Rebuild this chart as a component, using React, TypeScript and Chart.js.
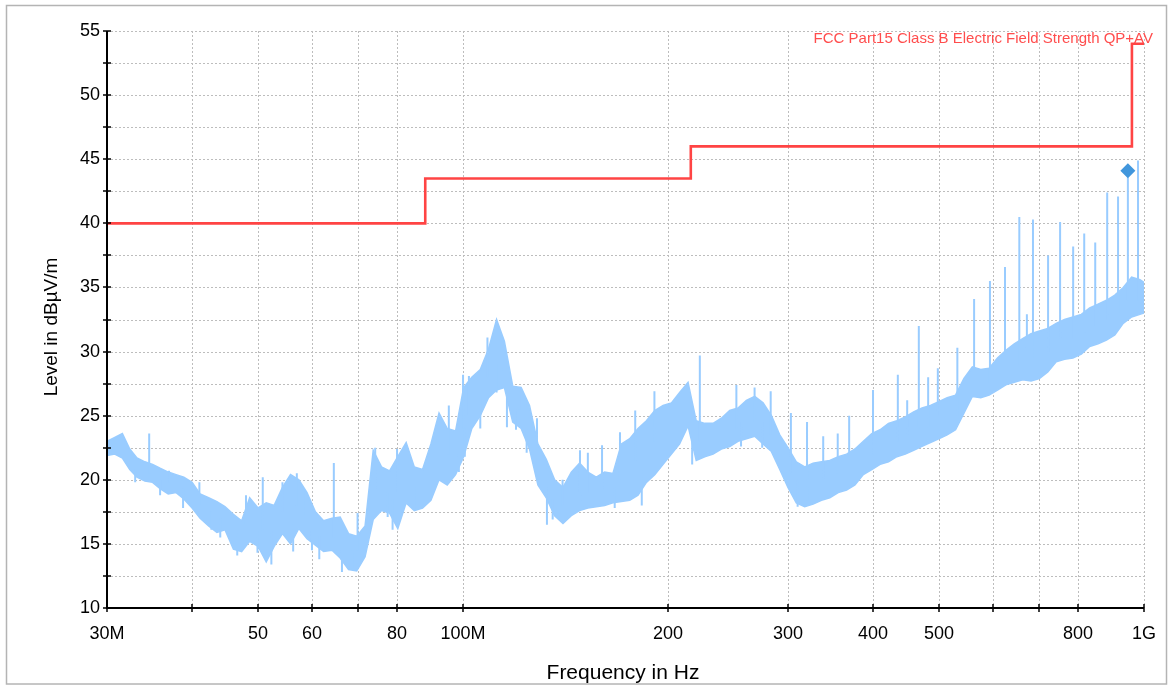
import React, { useEffect, useRef } from "react";
import { Chart, registerables } from "chart.js";

Chart.register(...registerables);

const FONT = '"Liberation Sans", Arial, Helvetica, sans-serif';

const xTickValues = [30, 40, 50, 60, 70, 80, 100, 200, 300, 400, 500, 600, 700, 800, 1000];
const xTickLabels = ["30M", "", "50", "60", "", "80", "100M", "200", "300", "400", "500", "", "", "800", "1G"];
const yTickValues = [10, 12.5, 15, 17.5, 20, 22.5, 25, 27.5, 30, 32.5, 35, 37.5, 40, 42.5, 45, 47.5, 50, 52.5, 55];
const yTickLabels = ["10", "", "15", "", "20", "", "25", "", "30", "", "35", "", "40", "", "45", "", "50", "", "55"];

const xTitle = "Frequency in Hz";
const yTitle = "Level in dBµV/m";

const limitName = "FCC Part15 Class B Electric Field Strength QP+AV";
const limitFreqs = [30, 88, 88, 216, 216, 960, 960, 1000];
const limitLevels = [40, 40, 43.5, 43.5, 46, 46, 54, 54];

// measured trace, envelope (low / high) per frequency in MHz
const traceFreqs = [
  30, 30.8, 31.6, 32.4, 33.2, 34.1, 35, 35.9, 36.9, 37.9, 38.9, 40, 41.1, 42.3, 43.5, 44.7, 46, 47.3, 48.6, 50,
  51.4, 52.8, 54.3, 55.8, 57.4, 59, 60.7, 62.4, 64.2, 66, 67.9, 69.8, 71.8, 73.8, 75.9, 78, 80.2, 82.5, 84.8, 87.2,
  89.7, 92.2, 94.8, 97.5, 100.2, 103, 106, 109, 112, 115, 118.3, 121.7, 125.2, 128.8, 132.5, 136.3, 140.2, 144.2, 148.3, 152.5,
  156.9, 161.4, 166, 170.8, 175.7, 180.7, 185.9, 191.2, 196.7, 202.3, 208, 214, 220, 226.4, 232.9, 239.5, 246.4, 253.4, 260.7, 268.1,
  275.8, 283.7, 291.8, 300, 308.6, 317.5, 326.6, 336, 345.6, 355.6, 365.8, 376.3, 387.1, 398.3, 409.7, 421.5, 433.6, 446.1, 458.9, 472.1,
  485.7, 499.6, 514, 528.8, 544, 559.7, 575.8, 592.3, 609.3, 626.9, 644.9, 663.4, 682.5, 702.1, 722.3, 743.1, 764.4, 786.4, 809, 832.3,
  856.2, 880.8, 906.1, 932.2, 959, 986.5, 1000,
];
const traceLows = [
  21.9, 22.0, 21.7, 20.8, 20.2, 19.9, 19.8, 19.3, 18.9, 19.0, 18.5, 17.8, 17.0, 16.4, 15.9, 16.1, 14.6, 14.4, 15.2, 14.8,
  13.6, 14.8, 15.8, 15.0, 16.2, 15.4, 14.9, 14.4, 14.5, 13.9, 13.0, 12.9, 14.0, 16.9, 17.6, 17.4, 16.2, 18.2, 17.6, 17.8,
  18.4, 20.0, 19.6, 20.4, 21.8, 24.0, 25.0, 26.4, 27.0, 27.2, 24.5, 24.0, 22.4, 19.6, 18.6, 17.2, 16.6, 17.2, 17.6, 17.8,
  17.9, 18.0, 18.2, 18.3, 18.4, 18.8, 19.8, 20.4, 21.2, 22.0, 22.8, 24.2, 21.5, 21.8, 22.0, 22.4, 22.6, 23.0, 23.2, 23.4,
  22.8, 22.2, 20.8, 19.4, 18.2, 17.9, 18.1, 18.4, 18.6, 19.0, 19.2, 19.6, 20.4, 20.8, 21.2, 21.4, 21.8, 22.0, 22.3, 22.6,
  22.9, 23.2, 23.5, 23.9, 25.2, 26.5, 26.4, 26.6, 27.0, 27.4, 27.6, 27.8, 27.7, 27.9, 28.4, 29.2, 29.4, 29.5, 29.8, 30.4,
  30.6, 30.9, 31.3, 32.2, 32.7, 32.9, 33.0,
];
const traceHighs = [
  23.0, 23.3, 23.6, 22.4, 21.7, 21.4, 21.2, 20.9, 20.6, 20.4, 20.2, 19.8, 18.9, 18.6, 18.3, 17.9, 17.3, 16.8, 18.6, 17.8,
  18.2, 18.0, 19.4, 20.4, 20.0, 19.0, 17.5, 16.8, 17.0, 17.1, 15.8, 15.6, 16.4, 22.3, 21.0, 20.7, 21.8, 22.9, 21.0, 20.8,
  22.8, 25.2, 24.0, 23.8, 27.2, 28.0, 28.6, 30.2, 32.5, 30.8, 27.3, 27.2, 25.8, 22.8, 21.6, 20.0, 19.4, 20.6, 21.3, 20.6,
  20.2, 20.6, 20.5, 22.8, 23.2, 24.0, 24.6, 25.4, 25.8, 26.0, 26.8, 27.6, 24.6, 24.4, 24.4, 24.8, 25.4, 25.6, 26.2, 26.5,
  26.0, 25.0, 23.5, 22.5, 21.4, 21.0, 21.3, 21.4, 21.5, 21.8, 22.0, 22.4, 23.0, 23.6, 23.9, 24.4, 24.6, 24.9, 25.3, 25.6,
  25.8, 26.1, 26.4, 26.6, 27.9, 28.8, 28.6, 28.7, 29.5, 30.1, 30.6, 31.0, 31.4, 31.6, 31.8, 32.2, 32.5, 32.7, 32.9, 33.4,
  33.7, 34.0, 34.4, 35.0, 35.8, 35.6, 35.4,
];

// narrow excursions of the trace (vertical strokes from one level to another), MHz / dBµV/m
const spikeFreqs = [
  34.6, 50.8, 64.6, 128.4, 148.5, 160, 191, 222.7, 252, 268, 283, 303, 320, 338, 355, 369, 400, 435, 449, 467,
  482, 498, 532, 563, 594, 625, 656, 673, 687, 723, 753, 787, 817, 848, 883, 916, 947, 980,
  37, 41, 48, 54.3, 57, 58.4, 70, 74.3, 80, 95.3, 100, 102, 108.6, 113.8, 121, 140, 152.5, 170, 179,
  33, 35.9, 38.8, 42.7, 44, 46.6, 49.9, 52.3, 56.3, 60, 61.5, 66.4, 68.7, 77.5, 78.8, 85, 98.6, 100.6, 106, 112,
  116, 119.6, 124, 132.8, 135.4, 150, 167, 183, 198, 217, 256, 275, 310, 320,
];
const spikeBases = [
  20.5, 16, 15.5, 21, 19, 19, 23, 23, 24, 24.5, 23.5, 20.5, 20, 20, 20.5, 21, 22, 23, 23.5, 24,
  24, 25, 25, 27, 27.5, 28.5, 29, 29, 29.5, 30, 31, 31, 31.5, 32, 32.5, 33, 34, 34,
  19.8, 18.0, 16.5, 17.5, 18, 17.2, 14.5, 19, 19, 22, 24, 25, 28, 28.5, 25.5, 18, 19, 20, 21.5,
  20.8, 20, 19.3, 17.5, 17, 15.8, 16, 16, 17, 16, 15.6, 15, 14.5, 19, 18.5, 19.5, 22, 24, 26.5, 29,
  26.5, 25.5, 24, 19.5, 18.5, 19, 19.5, 21, 23.5, 23, 24.5, 24.5, 20, 19.5,
];
const spikeTops = [
  23.6, 20.2, 21.3, 24.8, 22.3, 22.7, 26.9, 29.7, 27.4, 27.2, 26.9, 25.2, 24.5, 23.4, 23.6, 25.0, 27.0, 28.2, 26.2, 32.0,
  28.0, 28.7, 30.3, 34.1, 35.5, 36.6, 40.5, 32.9, 40.3, 37.5, 40.1, 38.2, 39.2, 38.5, 42.4, 42.1, 43.6, 44.9,
  20.7, 19.8, 18.8, 19.8, 20.5, 19.3, 17.4, 22.5, 22.4, 25.8, 28.2, 28.1, 31.1, 30.4, 27.2, 20, 22.1, 23.7, 25.4,
  19.8, 18.8, 17.8, 16.1, 15.5, 14.1, 14.3, 13.4, 14.4, 14.5, 13.8, 12.8, 13.1, 17.1, 16.1, 17.6, 20.6, 21.8, 24.0, 26.8,
  24.1, 23.9, 22.1, 16.5, 16.9, 17.9, 17.8, 18.0, 21.5, 21.2, 22.6, 22.5, 17.9, 18.4,
];

const markerFreqs = [947];
const markerLevels = [44.1];

const TRACE_COLOR = "#99ccff";

const decorPlugin = {
  id: "decor",
  beforeDraw(chart: any) {
    const ctx = chart.ctx;
    ctx.save();
    ctx.fillStyle = "#ffffff";
    ctx.fillRect(0, 0, chart.width, chart.height);
    ctx.strokeStyle = "#b4b4b4";
    ctx.lineWidth = 1.5;
    ctx.strokeRect(6.5, 5.5, 1160, 678.5);
    ctx.restore();
  },
  beforeDatasetsDraw(chart: any) {
    const { ctx, chartArea: a, scales } = chart;
    const x = scales.x;
    const y = scales.y;
    ctx.save();
    ctx.strokeStyle = "#bdbdbd";
    ctx.lineWidth = 1;
    ctx.setLineDash([2, 2]);
    for (const v of yTickValues) {
      const py = Math.round(y.getPixelForValue(v)) + 0.5;
      ctx.beginPath();
      ctx.moveTo(a.left, py);
      ctx.lineTo(a.right, py);
      ctx.stroke();
    }
    for (const v of xTickValues) {
      const px = Math.round(x.getPixelForValue(v)) + 0.5;
      ctx.beginPath();
      ctx.moveTo(px, a.top);
      ctx.lineTo(px, a.bottom);
      ctx.stroke();
    }
    ctx.restore();
  },
  afterDatasetsDraw(chart: any) {
    const { ctx, chartArea: a, scales } = chart;
    const x = scales.x;
    const y = scales.y;
    ctx.save();
    ctx.setLineDash([]);
    ctx.strokeStyle = "#000000";
    ctx.lineWidth = 2;
    ctx.beginPath();
    ctx.moveTo(a.left, a.top);
    ctx.lineTo(a.left, a.bottom);
    ctx.lineTo(a.right, a.bottom);
    ctx.stroke();
    ctx.lineWidth = 1.5;
    for (const v of yTickValues) {
      const py = Math.round(y.getPixelForValue(v));
      ctx.beginPath();
      ctx.moveTo(a.left - 4, py);
      ctx.lineTo(a.left + 4, py);
      ctx.stroke();
    }
    for (const v of xTickValues) {
      const px = Math.round(x.getPixelForValue(v));
      ctx.beginPath();
      ctx.moveTo(px, a.bottom - 4);
      ctx.lineTo(px, a.bottom + 4);
      ctx.stroke();
    }
    // limit name
    ctx.fillStyle = "#ff4d4d";
    ctx.font = `15px ${FONT}`;
    ctx.textAlign = "right";
    ctx.textBaseline = "alphabetic";
    ctx.fillText(limitName, 1153, 43);
    // axis titles
    ctx.fillStyle = "#000000";
    ctx.font = `21px ${FONT}`;
    ctx.textAlign = "center";
    ctx.fillText(xTitle, 623, 679);
    ctx.translate(57, 327);
    ctx.rotate(-Math.PI / 2);
    ctx.font = `19px ${FONT}`;
    ctx.fillText(yTitle, 0, 0);
    ctx.restore();
  },
};

export default function App() {
  const canvasRef = useRef<HTMLCanvasElement | null>(null);

  useEffect(() => {
    const canvas = canvasRef.current;
    if (!canvas) return;

    const lowPts = traceFreqs.map((f, i) => ({ x: f, y: traceLows[i] }));
    const highPts = traceFreqs.map((f, i) => ({ x: f, y: traceHighs[i] }));
    const spikePts: any[] = [];
    spikeFreqs.forEach((f, i) => {
      spikePts.push({ x: f, y: spikeBases[i] });
      spikePts.push({ x: f, y: spikeTops[i] });
      spikePts.push({ x: f, y: null });
    });
    const limitPts = limitFreqs.map((f, i) => ({ x: f, y: limitLevels[i] }));
    const markerPts = markerFreqs.map((f, i) => ({ x: f, y: markerLevels[i] }));

    const chart = new Chart(canvas, {
      type: "line",
      data: {
        datasets: [
          {
            label: "marker",
            data: markerPts,
            showLine: false,
            pointStyle: "rectRot",
            pointRadius: 7.5,
            pointBackgroundColor: "#4196dc",
            pointBorderWidth: 0,
            borderColor: "#4196dc",
          },
          {
            label: limitName,
            data: limitPts,
            borderColor: "#ff4444",
            borderWidth: 2.6,
            pointRadius: 0,
            fill: false,
          },
          {
            label: "spikes",
            data: spikePts,
            borderColor: TRACE_COLOR,
            borderWidth: 2,
            pointRadius: 0,
            spanGaps: false,
            fill: false,
          },
          {
            label: "trace high",
            data: highPts,
            borderColor: TRACE_COLOR,
            backgroundColor: TRACE_COLOR,
            borderWidth: 1.5,
            pointRadius: 0,
            fill: "+1",
          },
          {
            label: "trace low",
            data: lowPts,
            borderColor: TRACE_COLOR,
            borderWidth: 1.5,
            pointRadius: 0,
            fill: false,
          },
        ],
      },
      options: {
        responsive: false,
        animation: false,
        devicePixelRatio: 1,
        layout: { padding: { left: 0, top: 31, right: 27, bottom: 0 } },
        elements: { line: { tension: 0 } },
        plugins: {
          legend: { display: false },
          tooltip: { enabled: false },
        },
        scales: {
          x: {
            type: "logarithmic",
            min: 30,
            max: 1000,
            grid: { display: false, drawTicks: false },
            border: { display: false },
            afterBuildTicks: (s: any) => {
              s.ticks = xTickValues.map((v) => ({ value: v }));
            },
            afterFit: (s: any) => {
              s.height = 79;
            },
            ticks: {
              autoSkip: false,
              maxRotation: 0,
              minRotation: 0,
              padding: 15,
              color: "#000000",
              font: { family: FONT, size: 18 },
              callback: (_v: any, i: number) => xTickLabels[i],
            },
          },
          y: {
            type: "linear",
            min: 10,
            max: 55,
            grid: { display: false, drawTicks: false },
            border: { display: false },
            afterBuildTicks: (s: any) => {
              s.ticks = yTickValues.map((v) => ({ value: v }));
            },
            afterFit: (s: any) => {
              s.width = 107;
            },
            ticks: {
              autoSkip: false,
              padding: 7,
              color: "#000000",
              font: { family: FONT, size: 18 },
              callback: (_v: any, i: number) => yTickLabels[i],
            },
          },
        },
      },
      plugins: [decorPlugin],
    });

    return () => {
      chart.destroy();
    };
  }, []);

  return (
    <div style={{ position: "absolute", left: 0, top: 0, width: 1171, height: 687, background: "#fff" }}>
      <canvas ref={canvasRef} width={1171} height={687} style={{ width: 1171, height: 687, display: "block" }} />
    </div>
  );
}
